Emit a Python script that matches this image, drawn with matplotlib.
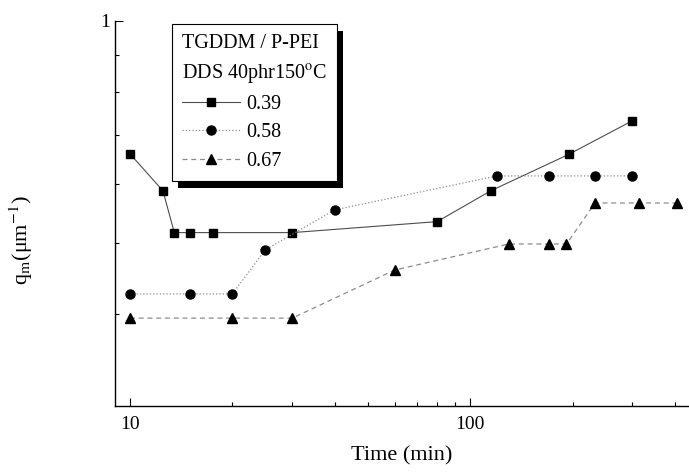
import matplotlib.pyplot as plt
from matplotlib.patches import Rectangle
from matplotlib.transforms import IdentityTransform
from matplotlib.ticker import FixedLocator, NullFormatter, FixedFormatter

plt.rcParams['font.family'] = ['Liberation Serif', 'DejaVu Serif']
plt.rcParams['mathtext.fontset'] = 'stix'

# time (min) and q_m (um^-1) for each PEI fraction
t_039 = [10, 12.5, 13.5, 15, 17.5, 30, 80, 115, 195, 300]
q_039 = [0.660, 0.588, 0.516, 0.516, 0.516, 0.516, 0.534, 0.588, 0.659, 0.732]

t_058 = [10, 15, 20, 25, 40, 120, 170, 233, 300]
q_058 = [0.426, 0.426, 0.426, 0.489, 0.554, 0.616, 0.616, 0.616, 0.616]

t_067 = [10, 20, 30, 60, 130, 170, 192, 233, 313, 405]
q_067 = [0.395, 0.395, 0.395, 0.459, 0.498, 0.498, 0.498, 0.566, 0.566, 0.566]

labels = ['0.39', '0.58', '0.67']
legend_title = 'TGDDM / P-PEI\nDDS 40phr150$^{\\mathrm{o}}$C'

fig = plt.figure(figsize=(6.89, 4.75), dpi=100)
ax = fig.add_axes([0.167, 0.145, 0.833, 0.811])

ax.plot(t_039, q_039, color='0.3', lw=0.8, ls='-', marker='s', ms=6,
        mfc='black', mec='black', label=labels[0])
ax.plot(t_058, q_058, color='0.55', lw=0.9, ls=':', marker='o', ms=6.5,
        mfc='black', mec='black', label=labels[1])
ax.plot(t_067, q_067, color='0.55', lw=0.9, ls=(0, (4, 3)), marker='^', ms=6.5,
        mfc='black', mec='black', label=labels[2])

ax.set_xscale('log')
ax.set_yscale('log')
ax.set_xlim(9.04, 440)
ax.set_ylim(0.3, 1.0)

for side in ['top', 'right']:
    ax.spines[side].set_visible(False)
ax.spines['left'].set_linewidth(1.0)
ax.spines['bottom'].set_linewidth(1.0)

ax.xaxis.set_major_locator(FixedLocator([10, 100]))
ax.xaxis.set_major_formatter(FixedFormatter(['10', '100']))
ax.xaxis.set_minor_locator(FixedLocator([20, 30, 40, 50, 60, 70, 80, 90, 200, 300, 400]))
ax.xaxis.set_minor_formatter(NullFormatter())
ax.yaxis.set_major_locator(FixedLocator([1.0]))
ax.yaxis.set_major_formatter(FixedFormatter(['1']))
ax.yaxis.set_minor_locator(FixedLocator([0.4, 0.5, 0.6, 0.7, 0.8, 0.9]))
ax.yaxis.set_minor_formatter(NullFormatter())
ax.tick_params(which='both', direction='in', labelsize=14, width=0.8)
ax.tick_params(which='major', length=6)
ax.tick_params(which='minor', length=3)
ax.tick_params(axis='x', pad=7)

ax.set_xlabel('Time (min)', fontsize=16)
ax.set_ylabel('q$_{\\mathrm{m}}$(\u03bcm$^{\\mathrm{-1}}$)', fontsize=16)
ax.xaxis.set_label_coords(0.5, -0.105)
ax.yaxis.set_label_coords(-0.14, 0.43)

leg = ax.legend(title=legend_title, loc='upper left', bbox_to_anchor=(0.099, 0.992),
                borderaxespad=0, fontsize=14.5, title_fontsize=14.5, frameon=True,
                fancybox=False, edgecolor='black', framealpha=1, handlelength=2.9,
                handletextpad=0.3, labelspacing=0.45, alignment='left',
                borderpad=0.5)
leg.get_title().set_linespacing(1.6)
leg.get_frame().set_linewidth(0.8)
leg.set_zorder(6)

# drop shadow under the legend box
fig.canvas.draw()
bb = leg.get_window_extent()
shadow = Rectangle((bb.x0 + 6, bb.y0 - 7), bb.width, bb.height, transform=IdentityTransform(),
                   facecolor='black', edgecolor='none', zorder=5, clip_on=False)
ax.add_artist(shadow)

fig.savefig('out.png', dpi=100)
